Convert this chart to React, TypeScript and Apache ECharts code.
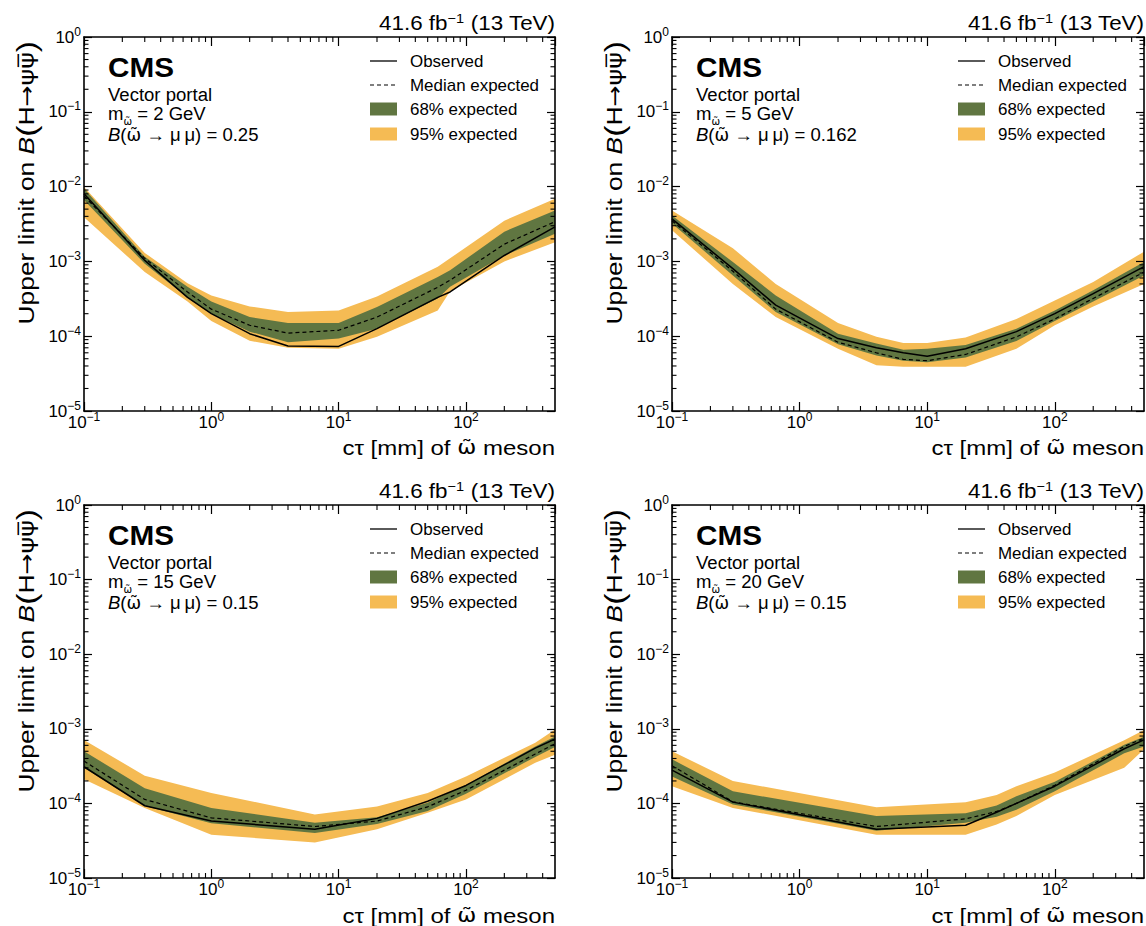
import React, { useEffect, useRef } from "react";
import * as echarts from "echarts";

// ---------- data ----------
// Panel 1: m = 2 GeV
const ct_m2 = [0.1, 0.3, 0.65, 1, 2, 4, 10, 20, 60, 75, 200, 500];
const obs_m2 = [8.0e-3, 1.03e-3, 3.3e-4, 2.0e-4, 1.08e-4, 7.4e-5, 7.3e-5, 1.26e-4, 3.3e-4, 3.9e-4, 1.2e-3, 2.9e-3];
const exp_m2 = [7.5e-3, 1.1e-3, 3.9e-4, 2.3e-4, 1.4e-4, 1.1e-4, 1.2e-4, 1.8e-4, 4.5e-4, 5.6e-4, 1.7e-3, 3.4e-3];
const lo68_m2 = [6.6e-3, 9.3e-4, 3.3e-4, 2.0e-4, 1.15e-4, 8.3e-5, 9.3e-5, 1.26e-4, 3.2e-4, 4.6e-4, 1.2e-3, 2.35e-3];
const hi68_m2 = [9.4e-3, 1.15e-3, 4.6e-4, 2.9e-4, 1.8e-4, 1.5e-4, 1.5e-4, 2.45e-4, 6.2e-4, 7.6e-4, 2.5e-3, 4.8e-3];
const lo95_m2 = [3.9e-3, 7.2e-4, 2.9e-4, 1.6e-4, 8.7e-5, 7.0e-5, 6.8e-5, 9.8e-5, 2.2e-4, 4.0e-4, 1.0e-3, 1.8e-3];
const hi95_m2 = [9.9e-3, 1.3e-3, 5.1e-4, 3.5e-4, 2.5e-4, 2.1e-4, 2.2e-4, 3.4e-4, 8.5e-4, 1.1e-3, 3.5e-3, 6.9e-3];

// Panel 2: m = 5 GeV
const ct_m5 = [0.1, 0.3, 0.65, 2, 4, 6.5, 10, 20, 50, 100, 200, 500];
const obs_m5 = [3.7e-3, 8.0e-4, 2.6e-4, 9.3e-5, 7.0e-5, 6.0e-5, 5.4e-5, 6.8e-5, 1.15e-4, 2.0e-4, 3.7e-4, 8.5e-4];
const exp_m5 = [3.5e-3, 7.4e-4, 2.3e-4, 8.3e-5, 6.0e-5, 4.9e-5, 4.7e-5, 5.7e-5, 9.8e-5, 1.7e-4, 3.2e-4, 7.2e-4];
const lo68_m5 = [3.2e-3, 6.5e-4, 2.1e-4, 7.8e-5, 5.5e-5, 4.7e-5, 4.5e-5, 5.2e-5, 8.6e-5, 1.6e-4, 2.9e-4, 6.5e-4];
const hi68_m5 = [4.1e-3, 9.8e-4, 3.5e-4, 1.08e-4, 8.0e-5, 6.6e-5, 6.8e-5, 7.6e-5, 1.26e-4, 2.2e-4, 4.1e-4, 9.8e-4];
const lo95_m5 = [2.6e-3, 5.0e-4, 1.8e-4, 6.8e-5, 4.1e-5, 3.9e-5, 3.9e-5, 3.9e-5, 6.8e-5, 1.4e-4, 2.5e-4, 5.0e-4];
const hi95_m5 = [4.8e-3, 1.5e-3, 5.0e-4, 1.5e-4, 9.8e-5, 8.1e-5, 8.1e-5, 9.6e-5, 1.7e-4, 3.0e-4, 5.3e-4, 1.35e-3];

// Panel 3: m = 15 GeV
const ct_m15 = [0.1, 0.3, 1, 6.5, 20, 50, 100, 350, 500];
const obs_m15 = [3.1e-4, 9.3e-5, 5.8e-5, 4.5e-5, 6.3e-5, 1.07e-4, 1.74e-4, 5.5e-4, 7.3e-4];
const exp_m15 = [3.7e-4, 1.13e-4, 6.4e-5, 4.9e-5, 5.8e-5, 9.0e-5, 1.5e-4, 4.6e-4, 6.3e-4];
const lo68_m15 = [3.0e-4, 9.2e-5, 5.4e-5, 4.0e-5, 5.3e-5, 7.9e-5, 1.35e-4, 4.2e-4, 5.7e-4];
const hi68_m15 = [5.0e-4, 1.6e-4, 8.7e-5, 5.5e-5, 6.5e-5, 1.02e-4, 1.77e-4, 5.8e-4, 7.9e-4];
const lo95_m15 = [2.1e-4, 8.7e-5, 3.8e-5, 3.0e-5, 4.5e-5, 7.5e-5, 1.13e-4, 3.5e-4, 4.5e-4];
const hi95_m15 = [7.1e-4, 2.35e-4, 1.38e-4, 7.1e-5, 9.1e-5, 1.38e-4, 2.3e-4, 6.5e-4, 9.8e-4];

// Panel 4: m = 20 GeV
const ct_m20 = [0.1, 0.3, 4, 20, 35, 50, 100, 350, 500];
const obs_m20 = [2.8e-4, 1.04e-4, 4.5e-5, 5.1e-5, 7.6e-5, 1.0e-4, 1.7e-4, 5.4e-4, 7.1e-4];
const exp_m20 = [3.2e-4, 1.05e-4, 4.9e-5, 6.2e-5, 7.8e-5, 1.0e-4, 1.75e-4, 5.8e-4, 7.5e-4];
const lo68_m20 = [2.3e-4, 9.7e-5, 4.3e-5, 5.5e-5, 6.6e-5, 8.2e-5, 1.45e-4, 4.7e-4, 5.8e-4];
const hi68_m20 = [3.9e-4, 1.45e-4, 6.8e-5, 7.4e-5, 9.4e-5, 1.25e-4, 1.95e-4, 6.1e-4, 7.8e-4];
const lo95_m20 = [1.7e-4, 8.7e-5, 3.8e-5, 3.8e-5, 5.2e-5, 6.8e-5, 1.3e-4, 3.0e-4, 5.3e-4];
const hi95_m20 = [5.0e-4, 2.0e-4, 8.9e-5, 1.04e-4, 1.3e-4, 1.7e-4, 2.6e-4, 7.0e-4, 9.6e-4];

const massLabels = ["2", "5", "15", "20"];
const brLabels = ["0.25", "0.162", "0.15", "0.15"];
const legendLabels = ["Observed", "Median expected", "68% expected", "95% expected"];

// axis ranges and tick helpers
const X_MIN = 0.1;
const X_MAX = 500;
const Y_MIN = 1e-5;
const Y_MAX = 1;
const xDecades = [0.1, 1, 10, 100];
const yDecades = [1e-5, 1e-4, 1e-3, 1e-2, 1e-1];
const minorMantissas = [2, 3, 4, 5, 6, 7, 8, 9];

const FONT = "'Liberation Sans', Arial, Helvetica, sans-serif";
const GREEK = "'DejaVu Sans', 'Liberation Sans', sans-serif";
const OMEGA_T = "\u03C9\u0303";
const GREEN = "#607641";
const YELLOW = "#F5BB54";

const PANELS = [
  { ct: ct_m2, obs: obs_m2, exp: exp_m2, lo68: lo68_m2, hi68: hi68_m2, lo95: lo95_m2, hi95: hi95_m2 },
  { ct: ct_m5, obs: obs_m5, exp: exp_m5, lo68: lo68_m5, hi68: hi68_m5, lo95: lo95_m5, hi95: hi95_m5 },
  { ct: ct_m15, obs: obs_m15, exp: exp_m15, lo68: lo68_m15, hi68: hi68_m15, lo95: lo95_m15, hi95: hi95_m15 },
  { ct: ct_m20, obs: obs_m20, exp: exp_m20, lo68: lo68_m20, hi68: hi68_m20, lo95: lo95_m20, hi95: hi95_m20 },
];

const GRID_POS = [
  [84, 37, 471, 374],
  [672, 37, 472, 374],
  [84, 505, 471, 373],
  [672, 505, 472, 373],
];

const expLabel = (v: number) => {
  const e = Math.round(Math.log10(v));
  return `{b|10}{s|${e < 0 ? "\u2212" + -e : e}}`;
};

function buildOption() {
  const grid: any[] = [];
  const xAxis: any[] = [];
  const yAxis: any[] = [];
  const series: any[] = [];
  const graphic: any[] = [];

  const tickRich = {
    b: { fontSize: 17, fontFamily: FONT, color: "#000", lineHeight: 17, verticalAlign: "bottom" },
    s: { fontSize: 12, fontFamily: FONT, color: "#000", lineHeight: 12, verticalAlign: "bottom", padding: [0, 0, 8, 0] },
  };

  const minorX: number[] = [];
  xDecades.forEach((d) => minorMantissas.forEach((m) => { const v = m * d; if (v < X_MAX) minorX.push(v); }));
  const minorY: number[] = [];
  yDecades.forEach((d) => minorMantissas.forEach((m) => minorY.push(m * d)));
  const minorData = [
    ...minorX.map((v) => [v, 1e-3, 0]),
    ...minorY.map((v) => [1, v, 1]),
  ];

  PANELS.forEach((p, g) => {
    const [L, T, W, H] = GRID_POS[g];
    const dx = L - 84;
    const dy = T - 37;
    const R = L + W;
    grid.push({ left: L, top: T, width: W, height: H, containLabel: false });

    const lineStyle = { color: "#000", width: 1.6 };
    const common = {
      type: "log",
      logBase: 10,
      gridIndex: g,
      splitLine: { show: false },
      z: 10,
    };
    const xTick = { show: true, inside: true, length: 9, lineStyle: { color: "#000", width: 1.2 } };
    const yTick = { show: true, inside: true, length: 8, lineStyle: { color: "#000", width: 1.2 } };

    xAxis.push({
      ...common, position: "bottom", min: X_MIN, max: X_MAX,
      axisLine: { show: true, onZero: false, lineStyle },
      axisTick: xTick,
      axisLabel: { show: true, margin: 3, formatter: expLabel, rich: tickRich, showMaxLabel: false, showMinLabel: true },
    });
    xAxis.push({
      ...common, position: "top", min: X_MIN, max: X_MAX,
      axisLine: { show: true, onZero: false, lineStyle },
      axisTick: xTick,
      axisLabel: { show: false },
    });
    yAxis.push({
      ...common, position: "left", min: Y_MIN, max: Y_MAX,
      axisLine: { show: true, onZero: false, lineStyle },
      axisTick: yTick,
      axisLabel: { show: true, margin: 3, formatter: expLabel, rich: tickRich },
    });
    yAxis.push({
      ...common, position: "right", min: Y_MIN, max: Y_MAX,
      axisLine: { show: true, onZero: false, lineStyle },
      axisTick: yTick,
      axisLabel: { show: false },
    });

    const xi = 2 * g;
    const band = (name: string, lo: number[], hi: number[], color: string, z: number) => ({
      type: "custom",
      name,
      xAxisIndex: xi,
      yAxisIndex: xi,
      z,
      silent: true,
      dimensions: ["x", "lo", "hi"],
      data: p.ct.map((x, i) => [x, lo[i], hi[i]]),
      encode: { x: 0, y: [1, 2] },
      itemStyle: { color },
      renderItem: (params: any, api: any) => {
        if (params.dataIndex !== 0) return null;
        const pts: number[][] = [];
        for (let i = 0; i < p.ct.length; i++) pts.push(api.coord([p.ct[i], hi[i]]));
        for (let i = p.ct.length - 1; i >= 0; i--) pts.push(api.coord([p.ct[i], lo[i]]));
        return { type: "polygon", shape: { points: pts }, style: { fill: color, stroke: null } };
      },
    });
    series.push(band("95% expected", p.lo95, p.hi95, YELLOW, 1));
    series.push(band("68% expected", p.lo68, p.hi68, GREEN, 2));
    series.push({
      type: "line", name: "Median expected", xAxisIndex: xi, yAxisIndex: xi, z: 4, silent: true,
      data: p.ct.map((x, i) => [x, p.exp[i]]),
      symbol: "none",
      lineStyle: { color: "#000", width: 1.2, type: [4, 3] },
    });
    series.push({
      type: "line", name: "Observed", xAxisIndex: xi, yAxisIndex: xi, z: 5, silent: true,
      data: p.ct.map((x, i) => [x, p.obs[i]]),
      symbol: "none",
      lineStyle: { color: "#000", width: 1.5 },
    });
    series.push({
      type: "custom", name: "minor ticks", xAxisIndex: xi, yAxisIndex: xi, z: 20, silent: true,
      dimensions: ["a", "b", "kind"],
      data: minorData,
      encode: { x: 0, y: 1 },
      renderItem: (params: any, api: any) => {
        const kind = api.value(2);
        const st = { stroke: "#000", lineWidth: 1.1 };
        if (kind === 0) {
          const v = api.value(0);
          const b = api.coord([v, Y_MIN]);
          const t = api.coord([v, Y_MAX]);
          return {
            type: "group",
            children: [
              { type: "line", shape: { x1: b[0], y1: b[1], x2: b[0], y2: b[1] - 5 }, style: st },
              { type: "line", shape: { x1: t[0], y1: t[1], x2: t[0], y2: t[1] + 5 }, style: st },
            ],
          };
        }
        const v = api.value(1);
        const l = api.coord([X_MIN, v]);
        const r = api.coord([X_MAX, v]);
        return {
          type: "group",
          children: [
            { type: "line", shape: { x1: l[0], y1: l[1], x2: l[0] + 4.5, y2: l[1] }, style: st },
            { type: "line", shape: { x1: r[0], y1: r[1], x2: r[0] - 4.5, y2: r[1] }, style: st },
          ],
        };
      },
    });

    // ---------- texts ----------
    const txt = (x: number, y: number, text: string, extra: any, scaleX = 1, rotation = 0) => ({
      type: "text",
      x, y, scaleX, rotation, silent: true, z: 30,
      style: {
        text,
        fill: "#000",
        fontFamily: FONT,
        align: "left", textAlign: "left",
        verticalAlign: "middle", textVerticalAlign: "middle",
        ...extra,
      },
    });

    // luminosity label
    graphic.push(txt(R, 23 + dy, "{a|41.6 fb}{s|\u22121}{a| (13 TeV)}", {
      align: "right", textAlign: "right",
      rich: {
        a: { fontSize: 20, fontFamily: FONT, fill: "#000", lineHeight: 20, verticalAlign: "bottom" },
        s: { fontSize: 13, fontFamily: FONT, fill: "#000", lineHeight: 13, verticalAlign: "bottom", padding: [0, 0, 8, 0] },
      },
    }, 1.12));

    // CMS
    graphic.push(txt(108 + dx, 67.5 + dy, "CMS", { fontSize: 27, fontWeight: "bold" }, 1.1));

    // info block
    graphic.push(txt(108 + dx, 95 + dy, "Vector portal", { fontSize: 18 }, 1.03));
    graphic.push(txt(108 + dx, 118 + dy, `{a|m}{sub|${OMEGA_T}}{a| = ${massLabels[g]} GeV}`, {
      rich: {
        a: { fontSize: 18, fontFamily: FONT, fill: "#000", lineHeight: 18, verticalAlign: "bottom", padding: [0, 0, 4, 0] },
        sub: { fontSize: 10, fontFamily: GREEK, fill: "#000", lineHeight: 12, verticalAlign: "bottom" },
      },
    }, 1.03));
    graphic.push(txt(108 + dx, 135 + dy, `{i|B}{a|(}{w|${OMEGA_T}}{a| \u2192 \u03BC\u2009\u03BC) = ${brLabels[g]}}`, {
      rich: {
        i: { fontSize: 18, fontFamily: FONT, fill: "#000", fontStyle: "italic" },
        a: { fontSize: 18, fontFamily: FONT, fill: "#000" },
        w: { fontSize: 17, fontFamily: GREEK, fill: "#000" },
      },
    }, 1.03));

    // legend
    const lx = 370 + dx;
    const lw = 27;
    const ty = [61, 85, 109, 134].map((v) => v + dy);
    graphic.push({ type: "line", z: 30, silent: true, shape: { x1: lx, y1: ty[0], x2: lx + lw, y2: ty[0] }, style: { stroke: "#000", lineWidth: 1.3 } });
    graphic.push({ type: "line", z: 30, silent: true, shape: { x1: lx, y1: ty[1], x2: lx + lw, y2: ty[1] }, style: { stroke: "#000", lineWidth: 1.2, lineDash: [4, 3] } });
    graphic.push({ type: "rect", z: 30, silent: true, shape: { x: lx, y: ty[2] - 6.5, width: lw, height: 13 }, style: { fill: GREEN } });
    graphic.push({ type: "rect", z: 30, silent: true, shape: { x: lx, y: ty[3] - 6.5, width: lw, height: 13 }, style: { fill: YELLOW } });
    legendLabels.forEach((lab, k) => {
      graphic.push(txt(410 + dx, ty[k], lab, { fontSize: 16 }, 1.06));
    });

    // x-axis title
    graphic.push(txt(R, 448 + dy, `{a|c\u03C4 [mm] of }{w|${OMEGA_T}}{a| meson}`, {
      align: "right", textAlign: "right",
      rich: {
        a: { fontSize: 20, fontFamily: FONT, fill: "#000" },
        w: { fontSize: 19, fontFamily: GREEK, fill: "#000" },
      },
    }, 1.2));

    // y-axis title (rotated)
    graphic.push(txt(26 + dx, 41 + dy, "{a|Upper limit on }{i|B}{p|(}{a|H}{g|\u2192\u03C8\u03C8\u0305}{p|)}", {
      align: "right", textAlign: "right",
      rich: {
        a: { fontSize: 22, fontFamily: FONT, fill: "#000", verticalAlign: "middle" },
        g: { fontSize: 21, fontFamily: GREEK, fill: "#000", verticalAlign: "middle" },
        i: { fontSize: 22, fontFamily: FONT, fill: "#000", fontStyle: "italic", verticalAlign: "middle" },
        p: { fontSize: 28, fontFamily: FONT, fill: "#000", verticalAlign: "middle" },
      },
    }, 1.2, Math.PI / 2));
  });

  return {
    animation: false,
    backgroundColor: "#fff",
    grid,
    xAxis,
    yAxis,
    series,
    graphic: { elements: graphic },
  };
}

export default function App() {
  const ref = useRef<HTMLDivElement>(null);
  useEffect(() => {
    if (!ref.current) return;
    const chart = echarts.init(ref.current, null, { renderer: "svg" });
    chart.setOption(buildOption() as any);
    return () => chart.dispose();
  }, []);
  return (
    <div
      ref={ref}
      style={{ position: "absolute", left: 0, top: 0, width: 1146, height: 926, background: "#fff" }}
    />
  );
}
